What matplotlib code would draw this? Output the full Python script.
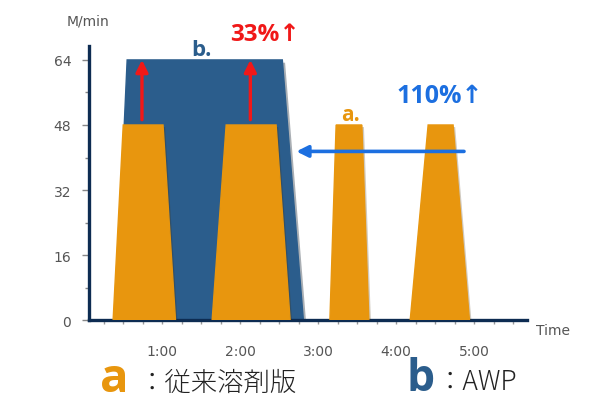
import matplotlib.pyplot as plt
import matplotlib.patheffects as pe

# AWP (b) line speed profile, minutes vs M/min
awp_t = [0.40, 0.55, 2.54, 2.81]
awp_v = [0, 64, 64, 0]

# conventional solvent (a) pulses
pulse_t = [
    [0.37, 0.50, 1.01, 1.17],
    [1.64, 1.82, 2.46, 2.64],
    [3.15, 3.23, 3.56, 3.65],
    [4.18, 4.41, 4.73, 4.94],
]
pulse_v = [0, 48, 48, 0]

time_ticks = [1, 2, 3, 4, 5]
time_labels = ['1:00', '2:00', '3:00', '4:00', '5:00']
speed_ticks = [0, 16, 32, 48, 64]

orange = '#e8960e'
blue = '#2b5d8c'
navy = '#0d2c52'
red = '#f01818'
light_blue = '#1c6fe0'

fig = plt.figure(figsize=(5.95, 4.06), dpi=100)
ax = fig.add_axes([0.150, 0.209, 0.736, 0.675])

ax.fill(awp_t, awp_v, color=blue, zorder=2,
        path_effects=[pe.SimplePatchShadow(offset=(2, -2), alpha=0.35), pe.Normal()])
for t in pulse_t:
    ax.fill(t, pulse_v, color=orange, zorder=3,
            path_effects=[pe.SimplePatchShadow(offset=(1.5, -1.5), alpha=0.25), pe.Normal()])

# red arrows: 48 -> 64
for x in [0.74, 2.13]:
    ax.annotate('', xy=(x, 64), xytext=(x, 49.3),
                arrowprops=dict(arrowstyle='-|>', color=red, lw=2.4,
                                mutation_scale=18, shrinkA=0, shrinkB=0), zorder=5)
# blue arrow to the left
ax.annotate('', xy=(2.72, 41.5), xytext=(4.87, 41.5),
            arrowprops=dict(arrowstyle='-|>', color=light_blue, lw=2.6,
                            mutation_scale=17, shrinkA=0, shrinkB=0), zorder=5)

fam = ['Open Sans', 'DejaVu Sans']
ax.text(1.50, 66.6, 'b.', color=blue, fontsize=16, fontweight='bold', family=fam,
        ha='center', va='center', clip_on=False)
ax.text(2.32, 70.3, '33%↑', color=red, fontsize=17.5, fontweight='bold', family=fam,
        ha='center', va='center', clip_on=False)
ax.text(4.56, 55.2, '110%↑', color=light_blue, fontsize=18, fontweight='bold', family=fam,
        ha='center', va='center')
ax.text(3.41, 50.6, 'a.', color=orange, fontsize=15, fontweight='bold', family=fam,
        ha='center', va='center')

ax.set_xlim(0.064, 5.68)
ax.set_ylim(0, 67.4)
for s in ['top', 'right']:
    ax.spines[s].set_visible(False)
for s in ['left', 'bottom']:
    ax.spines[s].set_color(navy)
    ax.spines[s].set_linewidth(2.4)

ax.set_yticks(speed_ticks)
ax.set_yticks([8, 24, 40, 56], minor=True)
ax.set_xticks(time_ticks)
ax.set_xticklabels(time_labels)
ax.set_xticks([i * 0.25 for i in range(1, 23)], minor=True)
ax.tick_params(axis='y', which='major', length=5, width=1, color='#888888',
               labelsize=10, labelcolor='#555555', pad=8)
ax.tick_params(axis='y', which='minor', length=3, width=1, color='#888888')
ax.tick_params(axis='x', which='both', length=3, width=1, color='#999999')
ax.tick_params(axis='x', which='major', labelsize=10, labelcolor='#555555', pad=14)

fig.text(0.148, 0.948, 'M/min', fontsize=10, color='#555555', ha='center', va='center')
fig.text(0.929, 0.185, 'Time', fontsize=10, color='#555555', ha='center', va='center')

# legend
cjk = ['Noto Sans CJK JP', 'DejaVu Sans']
fig.text(0.192, 0.065, 'a', fontsize=34, fontweight='bold', color=orange,
         family=fam, ha='center', va='center')
fig.text(0.232, 0.058, '：従来溶剤版', fontsize=19, fontweight='light', color='#222222',
         family=cjk, ha='left', va='center')
fig.text(0.706, 0.065, 'b', fontsize=32, fontweight='bold', color=blue,
         family=fam, ha='center', va='center')
fig.text(0.733, 0.058, '：AWP', fontsize=19, fontweight='light', color='#222222',
         family=cjk, ha='left', va='center')

fig.savefig('out.png', dpi=100)
